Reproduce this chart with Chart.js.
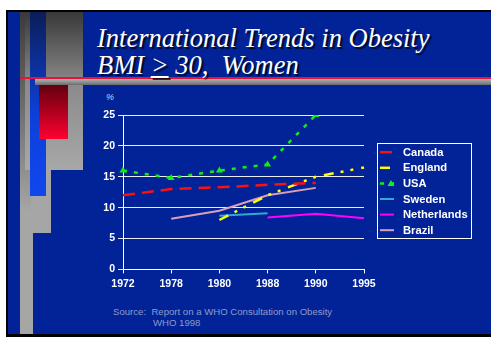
<!DOCTYPE html>
<html>
<head>
<meta charset="utf-8">
<script src="https://cdn.jsdelivr.net/npm/chart.js@4.4.1/dist/chart.umd.min.js"></script>
<style>
  body { margin: 0; width: 491px; height: 337px; overflow: hidden; position: relative; background: #fff; font-family: "Liberation Sans", Arial, sans-serif; }
  .abs { position: absolute; }
  #frame { left: 6px; top: 10px; width: 485px; height: 327px; background: #000; }
  #panel { left: 8px; top: 12px; width: 483px; height: 322px; background: #022398; }
  /* left decoration blocks */
  #colA { left: 20px; top: 12px; width: 13px; height: 322px; background: linear-gradient(#3a3a3a 0px, #a6a6a6 200px, #a6a6a6); }
  #blockB { left: 25px; top: 12px; width: 58px; height: 158px; background: linear-gradient(#383838, #8a8a8a 45%, #a8a8a8); }
  #blockC { left: 31px; top: 170px; width: 20px; height: 63px; background: #a6a6a6; }
  #blueCol { left: 30px; top: 12px; width: 16px; height: 184px; background: linear-gradient(#0b1d58, #0d40d8 55%, #1048ee); }
  #redBox { left: 39px; top: 85px; width: 29px; height: 54px; background: linear-gradient(#62000e, #ff0030); }
  #grayBar { left: 35px; top: 79px; width: 456px; height: 6px; background: linear-gradient(#b4b4b4, #6c6c6c); }
  #redLine { left: 20px; top: 77px; width: 471px; height: 2px; background: #e8103c; }
  .title { color: #fff; font-family: "Liberation Serif", "Times New Roman", serif; font-style: italic; font-size: 26.5px; line-height: 27px; white-space: pre; text-shadow: 2px 2px 1px rgba(0,0,0,0.75); }
  #t1 { left: 97px; top: 25px; }
  #t2 { left: 97px; top: 52px; }
  #pct { left: 106px; top: 92px; color: #c6cdf0; font-size: 9px; font-style: italic; }
  .src { color: #8e9bc9; font-size: 9.6px; white-space: pre; }
  #src1 { left: 113px; top: 306px; }
  #src2 { left: 153px; top: 317px; }
  #chartBox { left: 92px; top: 100px; width: 390px; height: 194px; }
</style>
</head>
<body>
<div class="abs" id="frame"></div>
<div class="abs" id="panel"></div>
<div class="abs" id="colA"></div>
<div class="abs" id="blockB"></div>
<div class="abs" id="blockC"></div>
<div class="abs" id="blueCol"></div>
<div class="abs" id="redBox"></div>
<div class="abs" id="grayBar"></div>
<div class="abs" id="redLine"></div>
<div class="abs title" id="t1">International Trends in Obesity</div>
<div class="abs title" id="t2">BMI <u>&gt;</u> 30,  Women</div>
<div class="abs" id="pct">%</div>
<div class="abs" id="chartBox"><canvas id="obesityChart"></canvas></div>
<div class="abs src" id="src1">Source:  Report on a WHO Consultation on Obesity</div>
<div class="abs src" id="src2">WHO 1998</div>

<script>
// survey years (category axis, evenly spaced)
const years = ['1972', '1978', '1980', '1988', '1990', '1995'];

// % of women with BMI >= 30
const canada      = [12, 13, 13.3, 13.7, 14, null];
const england     = [null, null, 8, 12, 15, 16.5];
const usa         = [16, 14.8, 16, 17, 25, null];
const sweden      = [null, null, 8.7, 9.1, null, null];
const netherlands = [null, null, null, 8.4, 9, 8.3];
const brazil      = [null, 8.2, 9.5, 12, 13.2, null];

const yTicks = [0, 5, 10, 15, 20, 25];

const tickFont = { family: '"Liberation Sans", Arial, sans-serif', size: 10.5, weight: 'bold' };

function line(label, data, color, dash, width) {
    return {
        label: label,
        data: data,
        borderColor: color,
        backgroundColor: color,
        borderWidth: width,
        borderDash: dash,
        pointRadius: 0,
        tension: 0,
        spanGaps: false
    };
}

const datasets = [
    line('Canada', canada, '#ff1010', [12, 7], 2.5),
    line('England', england, '#ffff00', [10, 7, 3, 7, 3, 8], 2.5),
    Object.assign(line('USA', usa, '#10f010', [4, 7], 2.5), {
        pointRadius: 4, pointStyle: 'triangle', pointBorderWidth: 0
    }),
    line('Sweden', sweden, '#33a8d0', [], 2),
    line('Netherlands', netherlands, '#ff00ff', [], 2),
    line('Brazil', brazil, '#d8a0b8', [], 2)
];

// boxed legend to the right of the plot area
const boxedLegend = {
    id: 'boxedLegend',
    afterDraw(chart) {
        const ctx = chart.ctx;
        const area = chart.chartArea;
        const sets = chart.data.datasets;
        const x0 = area.right + 16;
        const rowH = 15.6;
        const y0 = (area.top + area.bottom) / 2 - 1 - (sets.length - 1) / 2 * rowH;

        ctx.save();
        ctx.font = 'bold 11.2px "Liberation Sans", Arial, sans-serif';
        ctx.textBaseline = 'middle';
        let maxW = 0;
        sets.forEach((ds, i) => {
            const y = y0 + i * rowH;
            ctx.strokeStyle = ds.borderColor;
            ctx.lineWidth = ds.borderWidth;
            ctx.setLineDash(ds.borderDash || []);
            ctx.beginPath();
            ctx.moveTo(x0, y);
            ctx.lineTo(x0 + 14, y);
            ctx.stroke();
            ctx.setLineDash([]);
            if (ds.pointStyle === 'triangle') {
                ctx.fillStyle = ds.borderColor;
                ctx.beginPath();
                ctx.moveTo(x0 + 11, y - 3.5);
                ctx.lineTo(x0 + 14.5, y + 2.5);
                ctx.lineTo(x0 + 7.5, y + 2.5);
                ctx.closePath();
                ctx.fill();
            }
            ctx.fillStyle = '#ffffff';
            ctx.fillText(ds.label, x0 + 23, y + 0.5);
            maxW = Math.max(maxW, ctx.measureText(ds.label).width);
        });
        const top = Math.round(y0 - 9) + 0.5;
        const bottom = Math.round(y0 + (sets.length - 1) * rowH + 8) + 0.5;
        ctx.strokeStyle = '#ffffff';
        ctx.lineWidth = 1;
        ctx.strokeRect(Math.round(x0 - 3) + 0.5, top, Math.round(23 + maxW + 6), bottom - top);
        ctx.restore();
    }
};

new Chart(document.getElementById('obesityChart'), {
    type: 'line',
    data: { labels: years, datasets: datasets },
    plugins: [boxedLegend],
    options: {
        responsive: true,
        maintainAspectRatio: false,
        animation: false,
        layout: { padding: { left: 0, right: 118, top: 15, bottom: 0 } },
        plugins: {
            tooltip: { enabled: false },
            legend: { display: false }
        },
        scales: {
            x: {
                offset: false,
                grid: { drawOnChartArea: false, color: '#ffffff', tickLength: 4 },
                border: { color: '#ffffff', width: 1 },
                ticks: { color: '#ffffff', font: tickFont, padding: 4, maxRotation: 0 }
            },
            y: {
                min: 0,
                max: 25,
                afterBuildTicks(scale) { scale.ticks = yTicks.map(v => ({ value: v })); },
                afterFit(scale) { scale.width = 31; },
                grid: { color: 'rgba(255,255,255,0.92)', lineWidth: 1, tickLength: 5 },
                border: { color: '#ffffff', width: 1 },
                ticks: { color: '#ffffff', font: tickFont, padding: 3 }
            }
        }
    }
});
</script>
</body>
</html>
